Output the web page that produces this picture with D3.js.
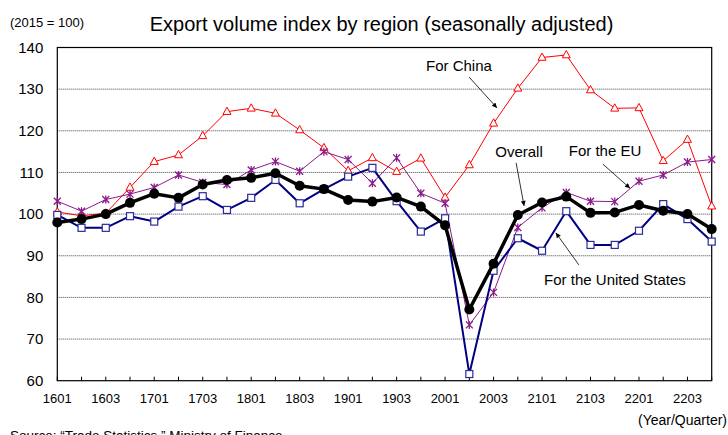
<!DOCTYPE html>
<html>
<head>
<meta charset="utf-8">
<script src="https://cdn.jsdelivr.net/npm/d3@7"></script>
<style>
  html, body { margin: 0; padding: 0; background: #fff; overflow: hidden; }
  svg { display: block; }
  text { font-family: Arial, 'Liberation Sans', sans-serif; fill: #000; }
</style>
</head>
<body>
<svg width="728" height="435"></svg>
<script>
const quarters = [
  '1601','1602','1603','1604','1701','1702','1703','1704',
  '1801','1802','1803','1804','1901','1902','1903','1904',
  '2001','2002','2003','2004','2101','2102','2103','2104',
  '2201','2202','2203','2204'
];
const overall = [98.0, 98.8, 100.0, 102.7, 104.9, 103.9, 107.1, 108.2, 108.7, 109.8, 106.8, 106.0, 103.4, 103.0,
  104.0, 101.8, 97.3, 77.1, 88.1, 99.8, 102.8, 104.2, 100.3, 100.4, 102.2, 100.8, 100.0, 96.4];
const forChina = [100.5, 99.6, 100.2, 106.4, 112.6, 114.2, 118.8, 124.6, 125.4, 124.2, 120.2, 115.9, 110.4, 113.5,
  110.2, 113.4, 104.0, 111.8, 121.8, 130.2, 137.6, 138.2, 129.8, 125.4, 125.5, 112.8, 117.9, 101.9];
const forEU = [103.1, 100.7, 103.5, 104.8, 106.4, 109.4, 107.6, 107.1, 110.6, 112.6, 110.3, 115.0, 113.1, 107.4,
  113.5, 105.0, 102.6, 73.4, 81.2, 96.8, 101.5, 105.2, 103.1, 103.0, 107.9, 109.4, 112.5, 113.1];
const forUS = [99.8, 96.7, 96.7, 99.5, 98.2, 101.8, 104.3, 101.0, 103.9, 108.2, 102.6, 106.0, 109.0, 111.1,
  103.1, 95.8, 99.0, 61.6, 86.4, 94.2, 91.2, 100.7, 92.6, 92.6, 96.0, 102.4, 98.8, 93.4];
const yTicks = [60, 70, 80, 90, 100, 110, 120, 130, 140];
const xLabels = quarters.filter((q, i) => i % 2 === 0);

// labels with arrows, in data units (quarter index, index value)
const notes = [
  { text: 'For China', x: 16.57, y: 134.4, from: [16.99, 132.9], to: [18.14, 125.5] },
  { text: 'Overall', x: 19.05, y: 113.6, from: [18.93, 112.3], to: [19.26, 101.95] },
  { text: 'For the EU', x: 22.6, y: 113.95, from: [22.51, 112.0], to: [23.63, 106.2] },
  { text: 'For the United States', x: 23.01, y: 83.0, from: [21.52, 87.8], to: [20.57, 95.5] }
];

const svg = d3.select('svg');
const margin = { top: 47.5, right: 16.3, bottom: 54.3, left: 57.3 };
const width = +svg.attr('width');
const height = +svg.attr('height');
const innerWidth = width - margin.left - margin.right;
const innerHeight = height - margin.top - margin.bottom;

const xScale = d3.scalePoint()
  .domain(quarters)
  .range([0, innerWidth]);
const xIdx = d3.scaleLinear()
  .domain([0, quarters.length - 1])
  .range([0, innerWidth]);
const yScale = d3.scaleLinear()
  .domain([60, 140])
  .range([innerHeight, 0]);

svg.append('defs').append('marker')
    .attr('id', 'arrow')
    .attr('viewBox', '0 0 10 10')
    .attr('refX', 10)
    .attr('refY', 5)
    .attr('markerWidth', 7)
    .attr('markerHeight', 5)
    .attr('markerUnits', 'userSpaceOnUse')
    .attr('orient', 'auto')
  .append('path')
    .attr('d', 'M0,0L10,5L0,10Z')
    .attr('fill', '#000');

svg.append('text')
    .attr('x', 381.5)
    .attr('y', 31)
    .attr('text-anchor', 'middle')
    .attr('font-size', 20)
    .text('Export volume index by region (seasonally adjusted)');

svg.append('text')
    .attr('x', 10)
    .attr('y', 27)
    .attr('font-size', 13)
    .text('(2015 = 100)');

const g = svg.append('g')
  .attr('transform', `translate(${margin.left},${margin.top})`);

// gridlines
g.selectAll('.grid').data(yTicks.slice(1, -1))
  .enter().append('line')
    .attr('class', 'grid')
    .attr('x1', 0)
    .attr('x2', innerWidth)
    .attr('y1', d => yScale(d))
    .attr('y2', d => yScale(d))
    .attr('stroke', '#444')
    .attr('stroke-width', 1)
    .attr('stroke-dasharray', '1,1');

// y labels
g.selectAll('.y-label').data(yTicks)
  .enter().append('text')
    .attr('class', 'y-label')
    .attr('x', -14)
    .attr('y', d => yScale(d) + 5.3)
    .attr('text-anchor', 'end')
    .attr('font-size', 15)
    .text(d => d);

// quarter ticks, pointing inward
g.selectAll('.x-tick').data(quarters)
  .enter().append('line')
    .attr('class', 'x-tick')
    .attr('x1', d => xScale(d))
    .attr('x2', d => xScale(d))
    .attr('y1', innerHeight)
    .attr('y2', innerHeight - 4)
    .attr('stroke', '#000');

g.selectAll('.x-label').data(xLabels)
  .enter().append('text')
    .attr('class', 'x-label')
    .attr('x', d => xScale(d))
    .attr('y', innerHeight + 22.5)
    .attr('text-anchor', 'middle')
    .attr('font-size', 13)
    .text(d => d);

g.append('rect')
    .attr('width', innerWidth)
    .attr('height', innerHeight)
    .attr('fill', 'none')
    .attr('stroke', '#000')
    .attr('stroke-width', 1.2);

const line = d3.line()
  .x((d, i) => xScale(quarters[i]))
  .y(d => yScale(d));

const series = [
  { values: forChina, color: '#ff0000', width: 1, shape: 'tri' },
  { values: forEU, color: '#8b1a8b', width: 1, shape: 'star' },
  { values: forUS, color: '#000080', width: 2, shape: 'sq' },
  { values: overall, color: '#000', width: 3.5, shape: 'dot' }
];

const starPath = 'M-3.5,-3.5L3.5,3.5M-3.5,3.5L3.5,-3.5M0,-4L0,4';
const triPath = 'M0,-4.5L4,2.8L-4,2.8Z';

series.forEach(s => {
  g.append('path')
      .datum(s.values)
      .attr('d', line)
      .attr('fill', 'none')
      .attr('stroke', s.color)
      .attr('stroke-width', s.width)
      .attr('stroke-linejoin', 'round');

  const pts = g.append('g').selectAll('.pt').data(s.values)
    .enter().append('g')
      .attr('transform', (d, i) => `translate(${xScale(quarters[i])},${yScale(d)})`);

  if (s.shape === 'dot') {
    pts.append('circle').attr('r', 5).attr('fill', '#000');
  } else if (s.shape === 'sq') {
    pts.append('rect')
        .attr('x', -3.5).attr('y', -3.5)
        .attr('width', 7).attr('height', 7)
        .attr('fill', '#fff')
        .attr('stroke', '#2b2b9a')
        .attr('stroke-width', 1.2);
  } else if (s.shape === 'tri') {
    pts.append('path').attr('d', triPath)
        .attr('fill', '#fff')
        .attr('stroke', s.color)
        .attr('stroke-width', 1);
  } else {
    pts.append('path').attr('d', starPath)
        .attr('stroke', s.color)
        .attr('stroke-width', 1.3);
  }
});

// annotations
notes.forEach(n => {
  g.append('text')
      .attr('x', xIdx(n.x))
      .attr('y', yScale(n.y))
      .attr('text-anchor', 'middle')
      .attr('font-size', 15)
      .attr('fill', '#222')
      .text(n.text);
  g.append('line')
      .attr('x1', xIdx(n.from[0]))
      .attr('y1', yScale(n.from[1]))
      .attr('x2', xIdx(n.to[0]))
      .attr('y2', yScale(n.to[1]))
      .attr('stroke', '#000')
      .attr('stroke-width', 0.8)
      .attr('marker-end', 'url(#arrow)');
});

svg.append('text')
    .attr('x', 727)
    .attr('y', 425)
    .attr('text-anchor', 'end')
    .attr('font-size', 14)
    .text('(Year/Quarter)');

svg.append('text')
    .attr('x', 10)
    .attr('y', 440)
    .attr('font-size', 13.5)
    .text('Source: \u201cTrade Statistics,\u201d Ministry of Finance');
</script>
</body>
</html>
